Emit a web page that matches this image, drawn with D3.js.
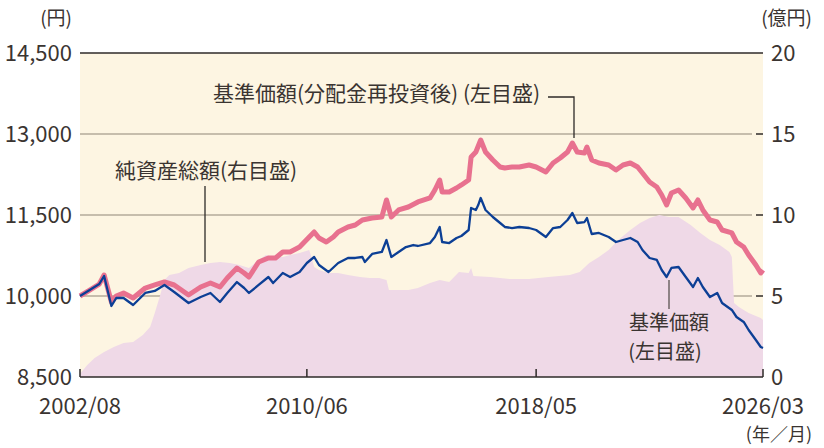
<!DOCTYPE html>
<html><head><meta charset="utf-8">
<script src="https://cdn.jsdelivr.net/npm/d3@7"></script>
<style>
html,body{margin:0;padding:0;background:#fff;}
svg{display:block;}
text{font-family:"Noto Sans CJK JP","Noto Sans",sans-serif;fill:#3a3431;}
</style></head><body>
<svg id="c" width="824" height="448"></svg>
<script>
// 基準価額 (円)
const navDates = ["2002-08","2002-12","2003-04","2003-06","2003-09","2003-11","2004-02","2004-06","2004-11","2005-03","2005-07","2005-11","2006-05","2006-10","2007-02","2007-06","2007-09","2008-01","2008-04","2008-06","2008-10","2009-02","2009-04","2009-08","2009-11","2010-03","2010-06","2010-09","2010-11","2011-03","2011-07","2011-11","2012-02","2012-05","2012-06","2012-09","2013-01","2013-03","2013-05","2013-08","2013-11","2014-02","2014-04","2014-09","2014-11","2015-01","2015-02","2015-05","2015-08","2015-10","2016-01","2016-02","2016-04","2016-05","2016-06","2016-08","2016-11","2017-02","2017-04","2017-07","2017-10","2018-02","2018-05","2018-09","2018-12","2019-03","2019-06","2019-08","2019-10","2020-01","2020-02","2020-04","2020-07","2020-11","2021-02","2021-05","2021-08","2021-11","2022-01","2022-04","2022-07","2022-09","2022-11","2023-01","2023-04","2023-07","2023-10","2023-12","2024-02","2024-05","2024-08","2024-10","2025-02","2025-04","2025-07","2025-09","2025-12","2026-02","2026-03"];
const navValues = [10000,10111,10222,10370,9815,9963,9963,9833,10056,10093,10204,10074,9870,9981,10056,9889,10056,10259,10148,10056,10204,10352,10241,10426,10352,10444,10611,10722,10574,10444,10611,10704,10704,10722,10630,10778,10815,11037,10722,10815,10907,10944,10926,10981,11093,11278,11000,10981,11074,11111,11222,11630,11593,11685,11815,11593,11463,11352,11278,11259,11278,11259,11222,11093,11259,11278,11407,11537,11352,11370,11444,11148,11167,11093,11000,11037,11074,11000,10852,10704,10667,10481,10352,10519,10537,10352,10167,10333,10167,9981,10056,9870,9741,9611,9519,9370,9185,9056,9037];

// 基準価額(分配金再投資後) (円)
const reinvDates = ["2002-08","2002-12","2003-04","2003-06","2003-09","2003-11","2004-02","2004-06","2004-11","2005-03","2005-07","2005-11","2006-05","2006-10","2007-02","2007-06","2007-09","2008-01","2008-04","2008-06","2008-10","2009-02","2009-05","2009-08","2009-11","2010-03","2010-07","2010-09","2010-11","2011-02","2011-05","2011-07","2011-11","2012-02","2012-05","2012-09","2013-01","2013-03","2013-05","2013-08","2013-12","2014-04","2014-09","2014-11","2015-01","2015-02","2015-05","2015-08","2015-10","2016-01","2016-02","2016-04","2016-06","2016-08","2016-11","2017-02","2017-04","2017-07","2017-10","2018-02","2018-05","2018-09","2018-12","2019-03","2019-06","2019-08","2019-10","2020-01","2020-02","2020-04","2020-07","2020-11","2021-02","2021-05","2021-08","2021-11","2022-01","2022-04","2022-07","2022-09","2022-11","2023-01","2023-04","2023-07","2023-10","2023-12","2024-02","2024-05","2024-08","2024-10","2025-02","2025-04","2025-07","2025-09","2025-12","2026-02","2026-03"];
const reinvValues = [10000,10111,10222,10389,9889,10000,10056,9963,10148,10204,10259,10204,10019,10167,10241,10167,10333,10518,10426,10352,10630,10704,10704,10815,10815,10907,11093,11185,11074,11000,11093,11185,11278,11315,11407,11444,11463,11778,11463,11593,11648,11741,11815,11963,12148,11926,11926,12000,12056,12148,12574,12667,12889,12667,12519,12389,12370,12389,12389,12426,12389,12296,12463,12556,12667,12833,12667,12648,12759,12519,12463,12426,12333,12426,12463,12389,12278,12111,12019,11870,11685,11907,11963,11815,11630,11778,11593,11407,11370,11222,11167,11000,10907,10759,10574,10426,10481];

// 純資産総額 (億円)
const assetDates = ["2002-08","2002-11","2003-02","2003-06","2003-10","2004-02","2004-06","2004-10","2005-01","2005-03","2005-05","2005-07","2005-09","2006-01","2006-05","2006-10","2007-02","2007-06","2007-10","2008-02","2008-06","2008-10","2009-01","2009-04","2009-08","2009-11","2010-03","2010-07","2010-09","2010-11","2011-03","2011-07","2011-11","2012-04","2012-08","2012-12","2013-03","2013-04","2013-08","2013-12","2014-04","2014-09","2015-01","2015-05","2015-09","2016-01","2016-02","2016-03","2016-10","2017-06","2018-02","2018-10","2019-07","2019-11","2020-03","2020-07","2020-11","2021-03","2021-08","2021-12","2022-04","2022-08","2022-12","2023-04","2023-09","2024-01","2024-05","2024-09","2025-01","2025-02","2025-03","2025-05","2025-09","2026-02","2026-03"];
const assetValues = [0.2,0.74,1.17,1.54,1.85,2.10,2.16,2.59,3.09,3.95,4.94,5.99,6.30,6.42,6.73,6.91,7.04,7.10,7.04,6.91,6.73,7.22,7.53,7.41,7.41,7.53,7.65,7.84,6.79,6.60,6.42,6.42,6.30,6.17,6.11,6.11,5.99,5.37,5.37,5.37,5.49,5.80,5.99,5.86,6.48,6.42,6.73,6.23,6.17,6.05,6.05,6.17,6.30,6.48,7.04,7.41,7.84,8.46,9.07,9.51,9.81,10.0,9.88,9.88,9.38,8.89,8.46,8.15,7.72,7.41,4.57,4.32,3.95,3.64,3.52];

const leftTicks = [8500,10000,11500,13000,14500];
const leftTickLabels = ["8,500","10,000","11,500","13,000","14,500"];
const rightTicks = [0,5,10,15,20];
const xTickDates = ["2002-08","2010-06","2018-05","2026-03"];
const xTickLabels = ["2002/08","2010/06","2018/05","2026/03"];

const parse = d3.timeParse("%Y-%m");
const mk = (ds, vs) => ds.map((d,i)=>({date:parse(d), v:vs[i]}));
const nav = mk(navDates, navValues);
const reinv = mk(reinvDates, reinvValues);
const assets = mk(assetDates, assetValues);

const L = 80, R = 763, T = 53, B = 377;
const x = d3.scaleTime().domain([parse("2002-08"), parse("2026-03")]).range([L, R]);
const yL = d3.scaleLinear().domain([8500,14500]).range([B, T]);
const yR = d3.scaleLinear().domain([0,20]).range([B, T]);

const svg = d3.select("#c");

// background
svg.append("rect").attr("x",L).attr("y",T).attr("width",R-L).attr("height",B-T).attr("fill","#fdf5e2");

// gridlines
svg.append("g").selectAll("line").data(leftTicks.slice(1,-1)).join("line")
  .attr("x1",L).attr("x2",752).attr("y1",d=>yL(d)).attr("y2",d=>yL(d))
  .attr("stroke","#b3aa9a").attr("stroke-width",1.5);

// area
svg.append("path").datum(assets)
  .attr("fill","#efd9e7")
  .attr("d", d3.area().x(d=>x(d.date)).y0(B).y1(d=>yR(d.v)));

// lines
svg.append("path").datum(reinv).attr("fill","none").attr("stroke","#e8718f")
  .attr("stroke-width",5).attr("stroke-linejoin","round")
  .attr("d", d3.line().x(d=>x(d.date)).y(d=>yL(d.v)));
svg.append("path").datum(nav).attr("fill","none").attr("stroke","#0c3f95")
  .attr("stroke-width",2.3).attr("stroke-linejoin","round")
  .attr("d", d3.line().x(d=>x(d.date)).y(d=>yL(d.v)));

// top & bottom frame
svg.append("line").attr("x1",L).attr("x2",R).attr("y1",T).attr("y2",T).attr("stroke","#2e2a28").attr("stroke-width",1.5);
svg.append("line").attr("x1",L).attr("x2",R).attr("y1",B).attr("y2",B).attr("stroke","#2e2a28").attr("stroke-width",1.5);

// right ticks
svg.append("g").selectAll("line").data(rightTicks.slice(1,-1)).join("line")
  .attr("x1",756).attr("x2",R).attr("y1",d=>yR(d)).attr("y2",d=>yR(d))
  .attr("stroke","#2e2a28").attr("stroke-width",1.5);

// bottom ticks
svg.append("g").selectAll("line").data(xTickDates).join("line")
  .attr("x1",d=>x(parse(d))).attr("x2",d=>x(parse(d))).attr("y1",B).attr("y2",B-8)
  .attr("stroke","#2e2a28").attr("stroke-width",1.5);

// left labels
svg.append("g").selectAll("text").data(leftTicks).join("text")
  .attr("x",72).attr("y",d=>yL(d)).attr("dy","0.36em").attr("text-anchor","end")
  .attr("font-size",22).text((d,i)=>leftTickLabels[i]);
// right labels
svg.append("g").selectAll("text").data(rightTicks).join("text")
  .attr("x",771).attr("y",d=>yR(d)).attr("dy","0.36em").attr("text-anchor","start")
  .attr("font-size",22).text(d=>d);
// x labels
svg.append("g").selectAll("text").data(xTickDates).join("text")
  .attr("x",d=>x(parse(d))).attr("y",406).attr("dy","0.36em").attr("text-anchor","middle")
  .attr("font-size",22).text((d,i)=>xTickLabels[i]);

// unit labels
svg.append("text").attr("x",72).attr("y",18).attr("dy","0.36em").attr("text-anchor","end").attr("font-size",19).text("(円)");
svg.append("text").attr("x",812).attr("y",18).attr("dy","0.36em").attr("text-anchor","end").attr("font-size",19).text("(億円)");
svg.append("text").attr("x",812).attr("y",435).attr("dy","0.36em").attr("text-anchor","end").attr("font-size",18).text("(年／月)");

// annotations
const ann = svg.append("g");
ann.append("text").attr("x",213).attr("y",93).attr("dy","0.36em").attr("font-size",21).text("基準価額(分配金再投資後) (左目盛)");
ann.append("path").attr("fill","none").attr("stroke","#2e2a28").attr("stroke-width",1.3)
  .attr("d","M548,97H574V138");
ann.append("text").attr("x",206).attr("y",170).attr("dy","0.36em").attr("text-anchor","middle").attr("font-size",21).text("純資産総額(右目盛)");
ann.append("line").attr("x1",205).attr("x2",205).attr("y1",186).attr("y2",262).attr("stroke","#2e2a28").attr("stroke-width",1.3);
ann.append("text").attr("x",669).attr("y",323).attr("dy","0.36em").attr("text-anchor","middle").attr("font-size",20).text("基準価額");
ann.append("text").attr("x",665).attr("y",352).attr("dy","0.36em").attr("text-anchor","middle").attr("font-size",20).text("(左目盛)");
ann.append("line").attr("x1",669).attr("x2",669).attr("y1",280).attr("y2",309).attr("stroke","#5a5350").attr("stroke-width",1.3);
</script>
</body></html>
